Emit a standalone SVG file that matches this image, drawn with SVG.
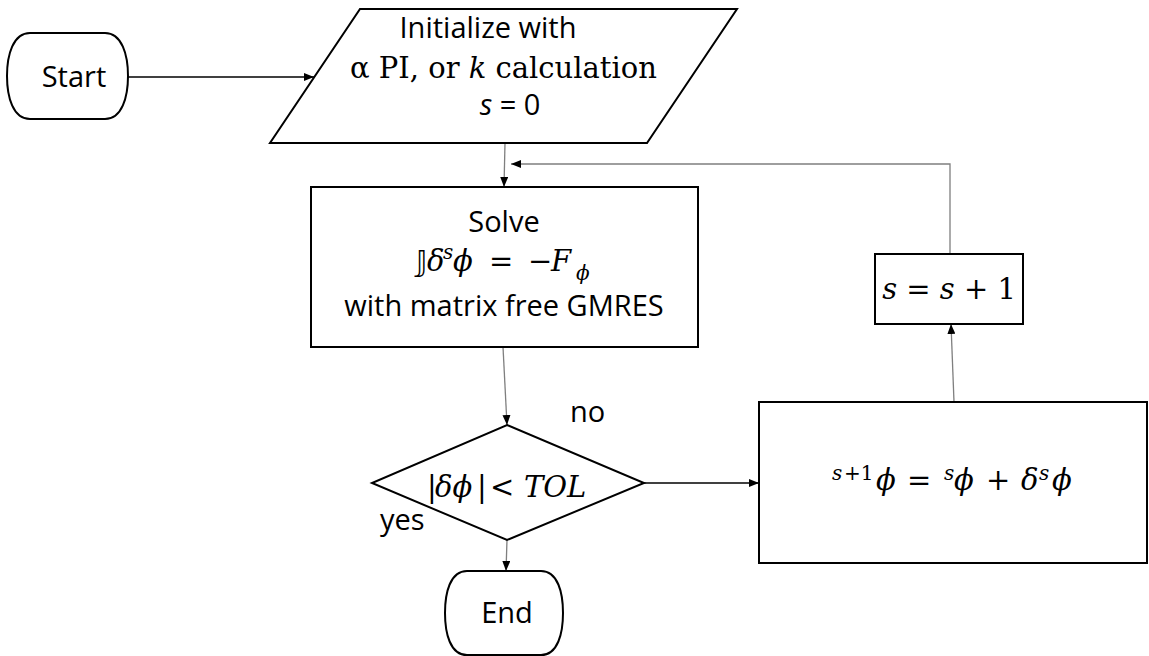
<svg xmlns="http://www.w3.org/2000/svg" width="1149" height="656" viewBox="0 0 1149 656">
<style>
.node{fill:#fff;stroke:#000;stroke-width:2}
.sans{font-family:"Open Sans","Liberation Sans",sans-serif;font-size:29px;fill:#000}
.math{font-family:"DejaVu Serif","Liberation Serif",serif;font-size:29px;fill:#000}
.it{font-style:italic}
.sup{font-size:20px}
.conn{fill:none;stroke:#7f7f7f;stroke-width:1.3}
.connb{fill:none;stroke:#000;stroke-width:1.3}
</style>
<defs>
<marker id="ah" markerWidth="10" markerHeight="8" refX="10" refY="4" orient="auto" markerUnits="userSpaceOnUse">
<path d="M0,0 L10,4 L0,8 z" fill="#000"/>
</marker>
</defs>
<rect width="1149" height="656" fill="#fff"/>
<g id="connectors">
<line class="connb" x1="128" y1="77" x2="314" y2="77" marker-end="url(#ah)"/>
<line class="conn" x1="505" y1="143" x2="504" y2="187" marker-end="url(#ah)"/>
<polyline class="conn" points="950,254 950,164 511,164" marker-end="url(#ah)"/>
<line class="conn" x1="503" y1="347" x2="507" y2="425" marker-end="url(#ah)"/>
<line class="conn" x1="507" y1="540" x2="506" y2="571" marker-end="url(#ah)"/>
<line class="connb" x1="644" y1="483" x2="759" y2="483" marker-end="url(#ah)"/>
<line class="conn" x1="954" y1="402" x2="951" y2="324" marker-end="url(#ah)"/>
</g>
<g id="start">
<path class="node" d="M30,33 H105 C122,33 128,55 128,76 C128,97 122,119 105,119 H30 C13,119 7,97 7,76 C7,55 13,33 30,33 Z"/>
<text class="sans" x="74" y="87" text-anchor="middle">Start</text>
</g>
<g id="init">
<polygon class="node" points="360,9 737,9 647,143 270,143"/>
<text class="sans" x="488" y="38" text-anchor="middle">Initialize with</text>
<text class="math" x="350" y="78">α PI, or <tspan class="it">k</tspan> calculation</text>
<text class="sans" x="510" y="115" text-anchor="middle"><tspan class="it">s</tspan> = 0</text>
</g>
<g id="solve">
<rect class="node" x="311" y="187" width="387" height="160"/>
<text class="sans" x="504" y="232" text-anchor="middle">Solve</text>
<text class="math"><tspan x="416" y="271" font-family="DejaVu Sans, DejaVu Serif, sans-serif">𝕁</tspan><tspan class="it" x="427" y="271">δ</tspan><tspan class="it sup" x="443" y="259">s</tspan><tspan class="it" x="453" y="271">ϕ</tspan><tspan x="489" y="271">=</tspan><tspan x="528" y="271">−</tspan><tspan class="it" x="551" y="271">F</tspan><tspan class="it sup" x="576" y="280">ϕ</tspan></text>
<text class="sans" x="504" y="316" text-anchor="middle">with matrix free GMRES</text>
</g>
<g id="decision">
<polygon class="node" points="507,425 644,483 507,540 372,483"/>
<text class="math"><tspan x="427" y="497">|</tspan><tspan class="it" x="435" y="497">δϕ</tspan><tspan x="477" y="497">|</tspan><tspan x="490" y="497">&lt;</tspan><tspan class="it" x="524" y="497">TOL</tspan></text>
<text class="sans" x="570" y="422">no</text>
<text class="sans" x="380" y="530">yes</text>
</g>
<g id="end">
<path class="node" d="M467,571 H541 C558,571 563,593 563,613 C563,633 558,655 541,655 H467 C450,655 445,633 445,613 C445,593 450,571 467,571 Z"/>
<text class="sans" x="507" y="623" text-anchor="middle">End</text>
</g>
<g id="update">
<rect class="node" x="759" y="402" width="388" height="161"/>
<text class="math"><tspan class="it sup" x="832" y="480">s</tspan><tspan class="sup" x="844" y="480">+1</tspan><tspan class="it" x="876" y="490">ϕ</tspan><tspan x="907" y="490">=</tspan><tspan class="it sup" x="944" y="480">s</tspan><tspan class="it" x="954" y="490">ϕ</tspan><tspan x="986" y="490">+</tspan><tspan class="it" x="1021" y="490">δ</tspan><tspan class="it sup" x="1039" y="480">s</tspan><tspan class="it" x="1052" y="490">ϕ</tspan></text>
</g>
<g id="increment">
<rect class="node" x="875" y="254" width="148" height="70"/>
<text class="math" x="949" y="299" text-anchor="middle"><tspan class="it">s</tspan> = <tspan class="it">s</tspan> + 1</text>
</g>
</svg>
